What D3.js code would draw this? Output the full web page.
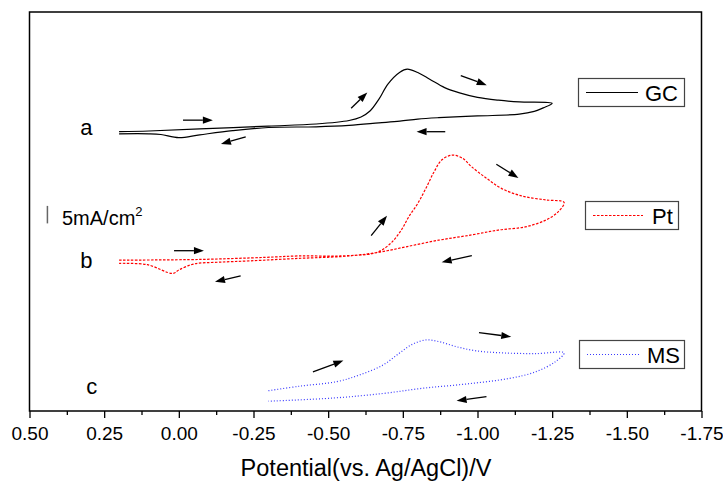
<!DOCTYPE html>
<html><head><meta charset="utf-8">
<script src="https://cdn.jsdelivr.net/npm/d3@7"></script>
<style>body{margin:0;background:#fff} svg{display:block} text{font-family:"Liberation Sans",Arial,sans-serif;fill:#000}</style>
</head><body><svg id="chart" width="723" height="482"></svg>
<script>
// ---- data ----
const potentialTicks = [0.5, 0.25, 0, -0.25, -0.5, -0.75, -1, -1.25, -1.5, -1.75];
const tickLabels = ["0.50","0.25","0.00","-0.25","-0.50","-0.75","-1.00","-1.25","-1.50","-1.75"];
const minorTicks = [0.375, 0.125, -0.125, -0.375, -0.625, -0.875, -1.125, -1.375, -1.625];

// GC (a): potential (V) and current (mA/cm2, offset for display)
const gcE = [0.20, 0.10, -0.07, -0.30, -0.46, -0.57, -0.61, -0.64, -0.67, -0.70, -0.74, -0.765, -0.80, -0.84, -0.89, -0.94, -1.00, -1.07, -1.14, -1.25,
             -1.22, -1.19, -1.14, -1.00, -0.87, -0.80, -0.74, -0.67, -0.57, -0.46, -0.30, -0.18, -0.07, 0.00, 0.06, 0.10, 0.20];
const gcI = [78.1, 78.3, 78.9, 79.7, 80.3, 81.3, 82.3, 84.0, 87.4, 91.7, 95.1, 96.0, 95.0, 93.1, 90.7, 89.2, 87.9, 87.1, 86.6, 86.2,
             84.9, 83.9, 83.1, 82.6, 82.1, 81.7, 81.1, 80.6, 79.9, 79.5, 79.3, 78.4, 77.2, 76.4, 77.3, 77.5, 77.5];
// Pt (b)
const ptE = [0.20, -0.07, -0.29, -0.40, -0.54, -0.65, -0.68, -0.715, -0.745, -0.77, -0.80, -0.83, -0.855, -0.88, -0.915, -0.95, -0.98, -1.03, -1.08, -1.15, -1.23, -1.29,
             -1.27, -1.23, -1.16, -1.07, -0.98, -0.87, -0.76, -0.68, -0.605, -0.54, -0.40, -0.24, -0.13, -0.05, 0.00, 0.02, 0.105, 0.20];
const ptI = [41.4, 41.6, 42.2, 42.6, 42.6, 43.3, 44.3, 46.7, 50.0, 53.8, 57.6, 62.4, 66.7, 70.0, 71.4, 70.5, 68.1, 64.8, 61.9, 59.7, 58.6, 57.9,
             55.2, 52.9, 50.9, 50.0, 48.6, 47.1, 45.2, 43.8, 42.9, 42.4, 41.9, 41.2, 40.8, 40.3, 38.6, 37.6, 40.1, 40.5];
// MS (c)
const msE = [-0.30, -0.405, -0.53, -0.605, -0.683, -0.738, -0.783, -0.828, -0.872, -0.928, -0.995, -1.084, -1.195, -1.29,
             -1.261, -1.195, -1.106, -0.961, -0.817, -0.683, -0.516, -0.30];
const msI = [4.1, 5.4, 6.7, 8.6, 11.4, 14.8, 17.4, 18.6, 18.1, 16.7, 15.5, 14.9, 14.7, 14.9,
             12.4, 9.5, 7.6, 6.0, 4.8, 3.3, 2.0, 1.1];

const seriesNames = ["GC", "Pt", "MS"];
const curveLabels = ["a", "b", "c"];
const labelE = [0.33, 0.33, 0.31];
const labelI = [77.1, 39.3, 3.1];

// scan-direction arrows: [E1, I1, E2, I2]
const arrows = [
  [-0.014, 81.4, -0.114, 81.4],
  [-0.224, 76.6, -0.141, 74.6],
  [-0.577, 84.8, -0.631, 89.3],
  [-0.944, 94.1, -1.031, 91.4],
  [-0.892, 78.1, -0.796, 78.1],
  [0.016, 44.1, -0.084, 44.1],
  [-0.207, 36.9, -0.121, 35.2],
  [-0.644, 48.4, -0.697, 54.1],
  [-1.063, 68.8, -1.137, 64.9],
  [-0.981, 42.7, -0.880, 40.8],
  [-0.449, 9.5, -0.551, 12.7],
  [-1.005, 20.7, -1.113, 19.5],
  [-1.030, 2.4, -0.930, 1.2]
];
const scaleBarValue = 5; // mA/cm2

// ---- layout ----
const L = 29.5, R = 701.5, T = 12, B = 411;
const svg = d3.select("#chart");
const x = d3.scaleLinear().domain([0.5, -1.75]).range([L, R]);
const y = d3.scaleLinear().domain([-1.7, 112.3]).range([B, T]);

const line = d3.line().x(d => x(d[0])).y(d => y(d[1])).curve(d3.curveCatmullRom.alpha(0.5));
const series = [
  {E: gcE, I: gcI, color: "#000", dash: null, width: 1.2},
  {E: ptE, I: ptI, color: "#ff0000", dash: "2.5,1.5", width: 1.2},
  {E: msE, I: msI, color: "#3a3aff", dash: "1,2", width: 1.2}
];
series.forEach(s => {
  svg.append("path").datum(s.E.map((e, i) => [e, s.I[i]]))
    .attr("d", line).attr("fill", "none").attr("stroke", s.color)
    .attr("stroke-width", s.width).attr("stroke-dasharray", s.dash);
});

// frame
svg.append("rect").attr("x", L).attr("y", T).attr("width", R - L).attr("height", B - T)
  .attr("fill", "none").attr("stroke", "#000").attr("stroke-width", 1.5);

// x axis
const ax = svg.append("g").attr("transform", `translate(0,${B})`)
  .call(d3.axisBottom(x).tickValues(potentialTicks).tickFormat((d, i) => tickLabels[i]).tickSize(7).tickSizeOuter(0).tickPadding(9));
ax.select(".domain").remove();
ax.selectAll("line").attr("stroke-width", 1.3);
ax.selectAll("text").style("font-size", "19px").attr("font-family", null);
const mx = svg.append("g").attr("transform", `translate(0,${B})`)
  .call(d3.axisBottom(x).tickValues(minorTicks).tickFormat("").tickSize(4).tickSizeOuter(0));
mx.select(".domain").remove();
mx.selectAll("line").attr("stroke-width", 1.3);

svg.append("text").attr("x", 366).attr("y", 476).attr("text-anchor", "middle")
  .style("font-size", "23.5px").text("Potential(vs. Ag/AgCl)/V");

// curve labels
curveLabels.forEach((t, i) => {
  svg.append("text").attr("x", x(labelE[i])).attr("y", y(labelI[i])).style("font-size", "22px").text(t);
});

// scale bar
const sbE = 0.44, sbI = 51.9;
svg.append("line").attr("x1", x(sbE)).attr("x2", x(sbE)).attr("y1", y(sbI)).attr("y2", y(sbI + scaleBarValue))
  .attr("stroke", "#666").attr("stroke-width", 1.5);
const sbt = svg.append("text").attr("x", 62).attr("y", 225).style("font-size", "20px");
sbt.append("tspan").text("5mA/cm");
sbt.append("tspan").attr("dy", -9).style("font-size", "13px").text("2");

// arrows
arrows.forEach(a => {
  const x1 = x(a[0]), y1 = y(a[1]), x2 = x(a[2]), y2 = y(a[3]);
  const dx = x2 - x1, dy = y2 - y1, len = Math.hypot(dx, dy);
  const ux = dx / len, uy = dy / len, hl = 10, hw = 3.6;
  const bx = x2 - ux * hl, by = y2 - uy * hl;
  svg.append("line").attr("x1", x1).attr("y1", y1).attr("x2", bx).attr("y2", by)
    .attr("stroke", "#000").attr("stroke-width", 1.3);
  svg.append("path").attr("d", `M${x2},${y2}L${bx - uy * hw},${by + ux * hw}L${bx + uy * hw},${by - ux * hw}Z`)
    .attr("fill", "#000");
});

// legends
const legendBoxes = [
  {x: 578.5, y: 78.5, w: 106, h: 28, lx1: 586, lx2: 638, tx: 645},
  {x: 585.5, y: 201.5, w: 93, h: 28, lx1: 593, lx2: 643, tx: 652},
  {x: 579.5, y: 340.5, w: 105, h: 28, lx1: 587, lx2: 640, tx: 647}
];
legendBoxes.forEach((b, i) => {
  const g = svg.append("g");
  g.append("rect").attr("x", b.x).attr("y", b.y).attr("width", b.w).attr("height", b.h)
    .attr("fill", "#fff").attr("stroke", "#444").attr("stroke-width", 1.2);
  g.append("line").attr("x1", b.lx1).attr("x2", b.lx2).attr("y1", b.y + b.h / 2).attr("y2", b.y + b.h / 2)
    .attr("stroke", series[i].color).attr("stroke-width", 1.2).attr("stroke-dasharray", series[i].dash);
  g.append("text").attr("x", b.tx).attr("y", b.y + b.h / 2 + 8).style("font-size", "22px").text(seriesNames[i]);
});
</script></body></html>
